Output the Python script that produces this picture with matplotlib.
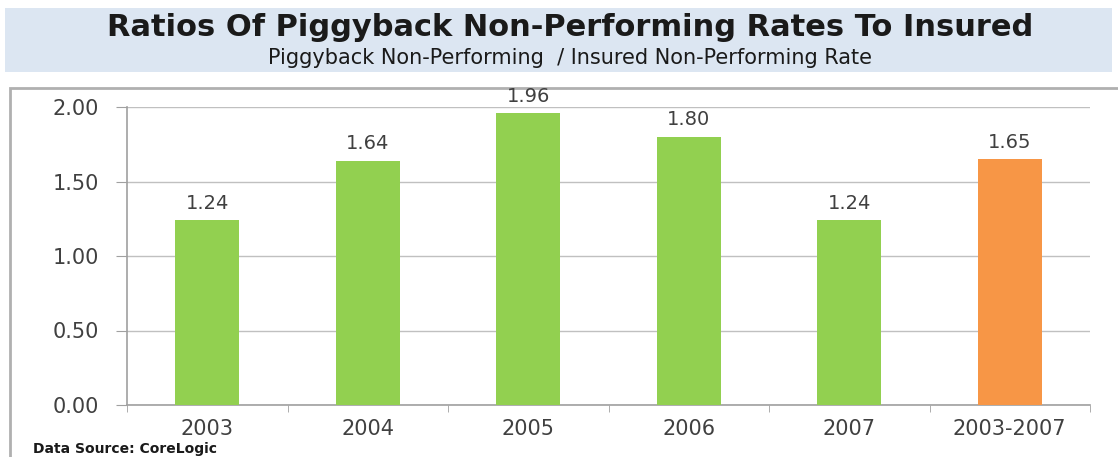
import matplotlib
matplotlib.use("Agg")
import matplotlib.pyplot as plt
from matplotlib.patches import Rectangle
from matplotlib.ticker import FixedLocator, NullFormatter

categories = ["2003", "2004", "2005", "2006", "2007", "2003-2007"]
values = [1.24, 1.64, 1.96, 1.80, 1.24, 1.65]
bar_colors = ["#92d050", "#92d050", "#92d050", "#92d050", "#92d050", "#f79646"]
yticks = [0.0, 0.5, 1.0, 1.5, 2.0]

W, H = 1118, 457
fig = plt.figure(figsize=(W / 100, H / 100), dpi=100)

# title banner
fig.patches.append(Rectangle((5 / W, 1 - 72 / H), 1107 / W, 64 / H, transform=fig.transFigure,
                             facecolor="#dce6f2", edgecolor="none", zorder=-2))
fig.text(570 / W, 1 - 28 / H, "Ratios Of Piggyback Non-Performing Rates To Insured",
         ha="center", va="center", fontsize=22, fontweight="bold", color="#1a1a1a",
         family="DejaVu Sans")
fig.text(570 / W, 1 - 58 / H, "Piggyback Non-Performing  / Insured Non-Performing Rate",
         ha="center", va="center", fontsize=15, color="#1a1a1a", family="DejaVu Sans")

# chart frame
fig.patches.append(Rectangle((10 / W, -0.1), 1.2, (1 - 88 / H) + 0.1, transform=fig.transFigure,
                             facecolor="white", edgecolor="#b0b0b0", linewidth=2, zorder=-2))

ax = fig.add_axes([127 / W, 1 - 405 / H, (1090 - 127) / W, (405 - 107) / H])
ax.set_zorder(2)
ax.patch.set_alpha(0)
x = list(range(len(categories)))
ax.bar(x, values, width=0.4, color=bar_colors, zorder=3)
for xi, v in zip(x, values):
    ax.text(xi, v + 0.05, f"{v:.2f}", ha="center", va="bottom", fontsize=14, color="#404040")

ax.set_xlim(-0.5, len(categories) - 0.5)
ax.set_ylim(0, 2.0)
ax.yaxis.set_major_locator(FixedLocator(yticks))
ax.set_yticklabels([f"{t:.2f}" for t in yticks])
ax.set_xticks(x)
ax.set_xticklabels(categories)
ax.tick_params(axis="x", which="major", length=0, pad=10, labelsize=15, labelcolor="#404040")
ax.xaxis.set_minor_locator(FixedLocator([i + 0.5 for i in range(-1, len(categories))]))
ax.xaxis.set_minor_formatter(NullFormatter())
ax.tick_params(axis="x", which="minor", length=5, color="#a0a0a0", direction="out")
ax.tick_params(axis="y", length=8, color="#a0a0a0", pad=12, labelsize=15, labelcolor="#404040")
ax.grid(axis="y", color="#c0c0c0", linewidth=1, zorder=0)
ax.set_axisbelow(True)
for s in ["top", "right"]:
    ax.spines[s].set_visible(False)
for s in ["left", "bottom"]:
    ax.spines[s].set_color("#a0a0a0")
    ax.spines[s].set_linewidth(1.2)

fig.text(33 / W, 1 - 449 / H, "Data Source: CoreLogic", ha="left", va="center",
         fontsize=10, fontweight="bold", color="#1a1a1a", family="DejaVu Sans")

fig.savefig("out.png", dpi=100)
